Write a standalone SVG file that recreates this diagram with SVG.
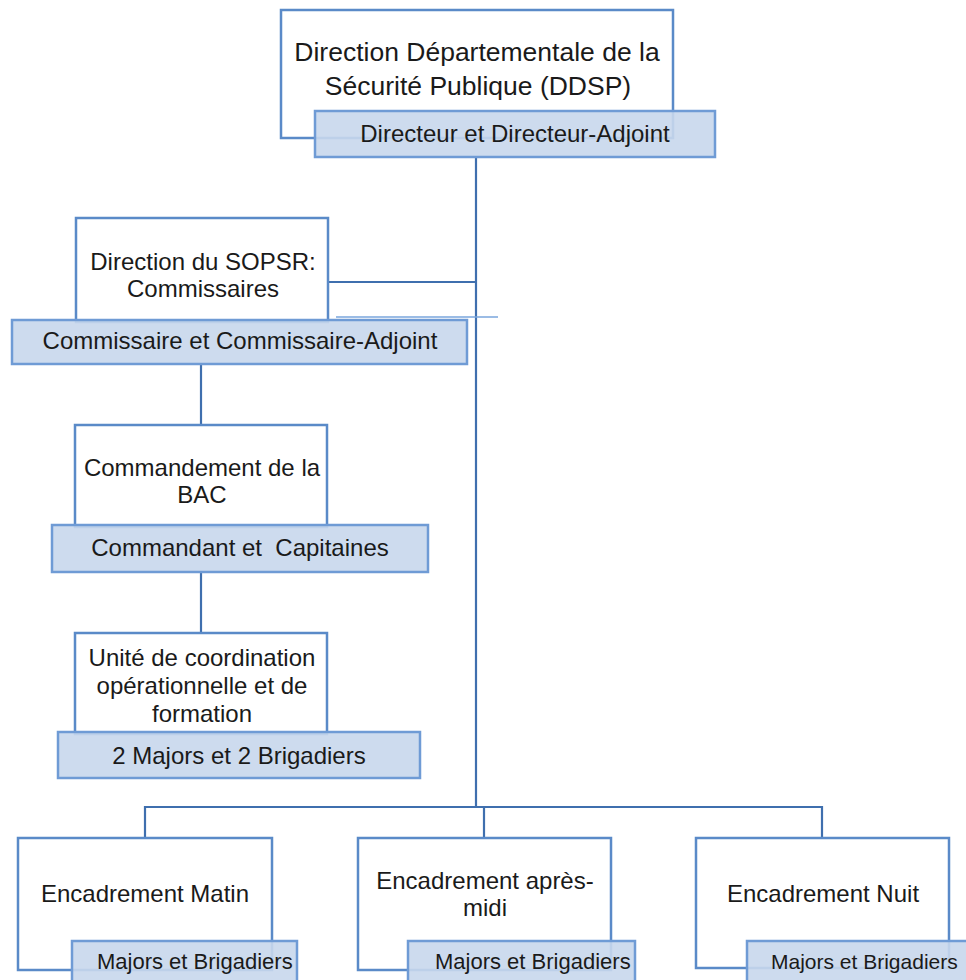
<svg xmlns="http://www.w3.org/2000/svg" width="966" height="980" viewBox="0 0 966 980">
<style>
.box{fill:#ffffff;stroke:#5a8ac8;stroke-width:2.5}
.bar{fill:#c8d7ec;fill-opacity:0.9;stroke:#6f9bd5;stroke-width:2.5}
.t{font-family:"Liberation Sans",Arial,sans-serif;font-size:24px;fill:#1a1a1a;text-anchor:middle}
.tl{font-family:"Liberation Sans",Arial,sans-serif;font-size:24px;fill:#1a1a1a}
.big{font-size:26.5px}
.sm{font-size:22px}
.c{fill:none;stroke:#3f6fae;stroke-width:2.2}
</style>
<rect width="966" height="980" fill="#ffffff"/>
<g id="connectors">
<path class="c" d="M476 157 V807"/>
<path class="c" d="M328 282 H476"/>
<path d="M336 317 H498" fill="none" stroke="#7aa6dc" stroke-width="1.5"/>
<path class="c" d="M201 364 V425"/>
<path class="c" d="M201 572 V633"/>
<path class="c" d="M145 838 V807 H822 V838"/>
<path class="c" d="M484 807 V838"/>
</g>
<g id="ddsp">
<rect class="box" x="281" y="10" width="392" height="128"/>
<rect class="bar" x="315" y="111" width="400" height="46"/>
<text class="t big" x="477" y="61">Direction Départementale de la</text>
<text class="t big" x="478" y="95">Sécurité Publique (DDSP)</text>
<text class="t" x="515" y="142">Directeur et Directeur-Adjoint</text>
</g>
<g id="sopsr">
<rect class="box" x="76" y="218" width="252" height="104"/>
<rect class="bar" x="12" y="320" width="455" height="44"/>
<text class="t" x="203" y="270">Direction du SOPSR:</text>
<text class="t" x="203" y="297">Commissaires</text>
<text class="t" x="240" y="349">Commissaire et Commissaire-Adjoint</text>
</g>
<g id="bac">
<rect class="box" x="75" y="425" width="252" height="102"/>
<rect class="bar" x="52" y="525" width="376" height="47"/>
<text class="t" x="202" y="476">Commandement de la</text>
<text class="t" x="202" y="503">BAC</text>
<text class="t" x="240" y="556" xml:space="preserve">Commandant et  Capitaines</text>
</g>
<g id="unite">
<rect class="box" x="75" y="633" width="252" height="101"/>
<rect class="bar" x="58" y="732" width="362" height="46"/>
<text class="t" x="202" y="666">Unité de coordination</text>
<text class="t" x="202" y="694">opérationnelle et de</text>
<text class="t" x="202" y="722">formation</text>
<text class="t" x="239" y="764">2 Majors et 2 Brigadiers</text>
</g>
<g id="matin">
<rect class="box" x="18" y="838" width="254" height="132"/>
<rect class="bar" x="72" y="941" width="225" height="50"/>
<text class="t" x="145" y="902">Encadrement Matin</text>
<text class="tl sm" x="97" y="969">Majors et Brigadiers</text>
</g>
<g id="apresmidi">
<rect class="box" x="358" y="838" width="253" height="132"/>
<rect class="bar" x="408" y="941" width="227" height="50"/>
<text class="t" x="485" y="889">Encadrement après-</text>
<text class="t" x="485" y="916">midi</text>
<text class="tl sm" x="435" y="969">Majors et Brigadiers</text>
</g>
<g id="nuit">
<rect class="box" x="696" y="838" width="253" height="130"/>
<rect class="bar" x="747" y="941" width="240" height="50"/>
<text class="t" x="823" y="902">Encadrement Nuit</text>
<text class="tl" x="771" y="969" style="font-size:21px">Majors et Brigadiers</text>
</g>
</svg>
